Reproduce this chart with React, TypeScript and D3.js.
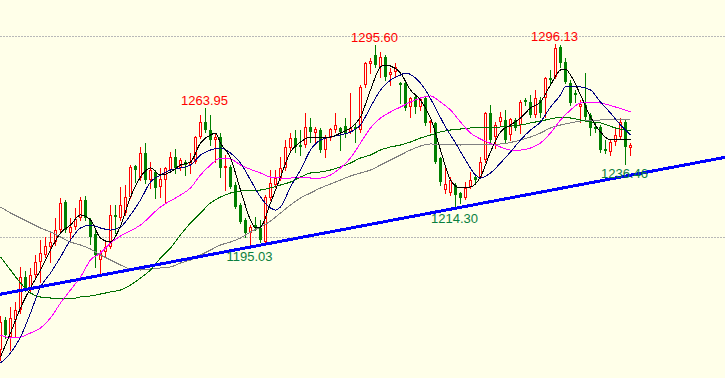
import React from "react";
import * as d3 from "d3";

const candleOpen = [1143.78,1158.71,1150.25,1158.71,1163.68,1180.10,1173.63,1181.10,1187.56,1191.05,1195.03,1197.51,1203.48,1217.41,1201.99,1204.98,1209.45,1218.41,1208.46,1201.49,1188.56,1192.54,1195.03,1210.95,1209.45,1211.94,1219.90,1235.32,1229.35,1241.79,1228.36,1232.34,1224.88,1228.36,1233.33,1239.80,1234.33,1237.31,1235.82,1237.31,1249.75,1257.21,1253.23,1248.26,1249.75,1234.33,1234.83,1225.87,1215.92,1208.46,1201.99,1205.97,1204.48,1197.51,1219.40,1225.87,1229.35,1234.33,1244.28,1249.25,1245.77,1245.77,1254.73,1251.74,1253.23,1243.28,1249.25,1253.23,1254.23,1255.22,1252.24,1254.73,1253.23,1275.62,1286.07,1290.55,1284.58,1289.55,1280.60,1282.09,1276.62,1276.62,1264.68,1269.65,1264.68,1269.15,1256.72,1256.72,1239.30,1223.38,1221.89,1225.87,1221.89,1219.40,1224.88,1229.85,1229.85,1238.31,1261.69,1249.75,1257.21,1258.21,1250.75,1258.21,1255.72,1268.16,1267.16,1260.70,1268.16,1269.15,1279.10,1279.60,1294.53,1287.06,1276.62,1271.64,1264.68,1265.67,1260.70,1254.73,1254.73,1243.78,1242.29,1247.26,1249.75,1257.21,1244.28];
const candleHigh = [1160.70,1160.20,1165.18,1167.66,1185.08,1183.09,1184.58,1191.05,1198.51,1200.00,1201.99,1209.45,1219.40,1218.41,1209.45,1214.43,1219.90,1220.40,1209.45,1203.48,1193.53,1198.51,1215.92,1215.92,1224.88,1225.87,1235.82,1235.82,1244.78,1246.77,1237.31,1233.33,1234.33,1234.83,1242.29,1243.78,1239.30,1238.31,1241.79,1250.25,1260.70,1263.95,1260.70,1251.74,1251.74,1240.80,1235.82,1227.36,1216.92,1209.45,1205.97,1209.95,1208.46,1220.90,1233.33,1233.33,1239.80,1248.26,1251.74,1253.23,1253.23,1261.69,1259.20,1254.73,1254.23,1250.75,1254.23,1261.69,1254.73,1259.20,1271.64,1256.72,1275.62,1287.06,1289.05,1295.60,1292.04,1290.55,1284.08,1286.57,1277.11,1277.11,1269.65,1270.15,1269.65,1269.65,1258.21,1257.21,1239.80,1235.82,1229.85,1226.87,1222.39,1227.36,1232.34,1230.85,1239.80,1262.19,1265.67,1257.21,1262.19,1263.18,1259.20,1259.20,1268.16,1269.15,1270.65,1273.13,1269.65,1279.60,1283.08,1296.13,1295.52,1289.05,1278.11,1273.13,1268.16,1281.59,1261.69,1256.72,1255.72,1248.26,1248.26,1254.73,1259.20,1258.21,1246.77];
const candleLow = [1138.81,1149.75,1143.78,1150.75,1162.19,1173.14,1172.64,1180.10,1177.61,1190.05,1187.56,1196.02,1201.99,1202.49,1197.51,1203.98,1208.46,1208.46,1196.50,1185.08,1181.10,1190.05,1194.53,1201.99,1208.46,1210.95,1219.40,1227.36,1228.36,1226.87,1224.38,1219.40,1219.90,1216.92,1232.34,1231.84,1233.33,1230.85,1231.84,1236.82,1249.25,1252.24,1245.77,1237.31,1229.85,1223.38,1224.38,1214.43,1206.97,1200.00,1195.03,1203.48,1197.51,1197.02,1218.41,1224.88,1228.36,1233.33,1243.28,1242.29,1240.80,1244.78,1247.26,1246.77,1242.29,1239.80,1248.26,1252.24,1243.28,1249.75,1251.74,1247.26,1252.24,1274.63,1281.59,1284.58,1279.60,1278.11,1275.62,1279.60,1266.67,1263.18,1259.70,1261.69,1263.18,1255.72,1252.24,1236.82,1225.87,1221.89,1220.90,1214.30,1216.92,1218.91,1224.38,1227.36,1229.35,1237.31,1246.77,1244.28,1255.72,1246.77,1248.26,1253.23,1251.74,1265.67,1259.70,1259.70,1259.70,1259.70,1275.62,1279.10,1284.58,1276.62,1265.67,1267.16,1257.21,1258.21,1250.75,1252.24,1242.29,1241.79,1240.80,1245.77,1249.25,1236.46,1240.80];
const candleClose = [1157.71,1151.25,1159.70,1163.68,1180.10,1174.63,1181.10,1187.56,1192.04,1195.52,1197.51,1203.48,1216.92,1203.48,1204.98,1208.96,1218.41,1209.45,1200.00,1191.05,1192.04,1195.03,1210.95,1209.95,1215.92,1219.90,1234.83,1233.33,1241.79,1228.36,1233.33,1224.38,1228.86,1234.33,1239.80,1234.33,1238.31,1235.82,1237.31,1249.75,1257.21,1253.23,1248.26,1249.75,1234.33,1235.32,1224.88,1214.93,1207.46,1201.99,1204.98,1204.48,1198.51,1219.90,1226.87,1229.35,1234.33,1244.78,1249.25,1244.78,1244.78,1254.73,1252.24,1253.73,1243.28,1249.25,1253.73,1255.72,1252.24,1251.74,1254.23,1253.73,1274.63,1286.57,1287.56,1285.57,1289.55,1279.60,1282.09,1284.58,1275.62,1264.18,1269.15,1264.68,1268.66,1256.72,1257.71,1237.31,1227.36,1226.37,1228.36,1220.90,1219.40,1224.38,1228.36,1228.36,1237.31,1261.69,1248.26,1255.72,1259.70,1248.26,1258.71,1254.23,1267.16,1267.16,1260.70,1269.15,1261.69,1279.10,1278.11,1294.03,1286.57,1277.11,1266.67,1270.65,1266.17,1259.70,1254.23,1253.73,1243.28,1242.79,1247.26,1250.75,1257.21,1244.78,1245.77];

// moving averages: [candle index, price]
const ma5 = [[0,1140.30],[2,1152.24],[4,1164.68],[6,1174.63],[8,1183.58],[10,1193.53],[12,1201.99],[14,1205.97],[16,1210.95],[18,1208.46],[20,1199.50],[22,1197.51],[24,1205.47],[26,1219.90],[28,1229.85],[30,1234.33],[32,1230.85],[34,1232.34],[36,1235.82],[38,1237.31],[40,1246.77],[42,1250.75],[43,1251.74],[44,1246.77],[46,1239.30],[48,1223.38],[50,1208.46],[51,1204.48],[52,1204.98],[54,1216.92],[56,1229.85],[58,1242.29],[60,1247.26],[62,1249.75],[64,1249.75],[66,1249.75],[68,1251.74],[70,1254.23],[72,1259.70],[74,1273.13],[76,1284.58],[77,1285.57],[78,1285.08],[80,1281.59],[82,1273.13],[84,1268.16],[86,1259.20],[88,1243.28],[90,1228.36],[92,1224.38],[94,1224.88],[96,1229.85],[98,1242.29],[100,1252.24],[102,1255.72],[104,1259.20],[106,1264.18],[108,1267.16],[110,1275.62],[112,1283.08],[113,1283.58],[114,1280.60],[116,1270.65],[118,1259.70],[120,1252.24],[122,1248.26],[124,1248.26],[126,1248.26]];
const ma10 = [[0,1137.32],[2,1142.29],[4,1150.25],[6,1162.19],[8,1175.13],[10,1182.09],[12,1190.05],[14,1198.51],[16,1204.48],[18,1205.97],[20,1204.48],[22,1203.48],[24,1204.98],[26,1210.95],[28,1218.41],[30,1227.36],[32,1230.85],[34,1233.33],[36,1234.33],[38,1235.82],[40,1240.80],[42,1243.28],[44,1244.28],[46,1241.79],[48,1236.82],[50,1228.36],[52,1219.90],[54,1214.43],[55,1213.43],[56,1214.93],[58,1224.88],[60,1233.33],[62,1243.28],[64,1248.26],[66,1249.75],[68,1250.75],[70,1252.24],[72,1255.72],[74,1264.68],[76,1273.13],[78,1278.11],[80,1280.60],[81,1281.59],[83,1279.10],[85,1273.13],[87,1264.18],[89,1254.73],[91,1246.77],[93,1238.31],[95,1230.85],[96,1229.35],[98,1231.84],[100,1236.82],[102,1242.29],[104,1248.26],[106,1253.23],[108,1257.21],[110,1264.68],[112,1270.65],[113,1274.63],[116,1274.63],[118,1273.13],[120,1267.16],[122,1261.69],[124,1255.72],[126,1250.75]];
const ma20 = [[0,1151.25],[2,1149.75],[4,1150.25],[6,1152.24],[8,1154.73],[10,1159.70],[12,1167.17],[14,1173.63],[16,1180.10],[18,1188.56],[20,1192.04],[22,1197.02],[24,1200.50],[28,1205.97],[32,1214.93],[36,1220.90],[38,1224.38],[40,1230.85],[42,1235.82],[44,1239.30],[46,1238.81],[48,1235.82],[52,1231.84],[54,1229.85],[56,1229.35],[58,1229.35],[60,1229.85],[62,1229.35],[64,1229.35],[66,1230.85],[68,1234.33],[70,1239.30],[72,1246.77],[74,1254.23],[76,1259.20],[78,1262.19],[80,1264.68],[82,1267.16],[84,1269.15],[86,1270.15],[88,1267.16],[90,1263.18],[92,1257.21],[94,1251.74],[96,1248.76],[100,1244.78],[102,1243.28],[104,1243.28],[106,1244.28],[108,1246.77],[110,1251.74],[112,1258.21],[114,1263.18],[116,1266.67],[118,1267.16],[120,1266.67],[123,1264.68],[126,1262.19]];
const ma60 = [[0,1190.05],[2,1183.58],[4,1177.12],[6,1172.14],[8,1170.15],[10,1169.65],[12,1169.16],[14,1169.16],[16,1170.15],[18,1170.65],[20,1171.64],[22,1172.64],[24,1173.63],[26,1176.12],[28,1179.60],[30,1183.58],[32,1189.55],[34,1194.53],[36,1201.00],[38,1206.97],[40,1211.94],[42,1216.92],[44,1219.90],[46,1221.89],[48,1222.89],[52,1223.38],[54,1224.38],[56,1225.87],[58,1227.36],[60,1229.85],[62,1231.84],[64,1232.34],[66,1233.33],[68,1234.83],[70,1236.82],[72,1239.30],[74,1240.80],[76,1243.28],[78,1244.78],[80,1245.77],[82,1247.26],[84,1249.25],[86,1250.75],[88,1252.24],[90,1253.23],[92,1253.73],[94,1254.23],[100,1254.73],[104,1255.72],[106,1256.72],[108,1257.71],[110,1258.71],[112,1259.70],[114,1259.20],[116,1258.21],[118,1257.21],[120,1256.72],[123,1254.23],[126,1252.74]];
const ma120 = [[0,1214.93],[2,1211.94],[4,1209.45],[6,1206.97],[8,1204.48],[10,1202.49],[12,1200.00],[14,1197.51],[16,1196.02],[18,1194.03],[20,1191.05],[22,1188.56],[24,1186.07],[26,1184.08],[28,1183.58],[30,1184.08],[32,1184.58],[34,1185.08],[36,1187.07],[38,1188.56],[40,1191.05],[42,1193.53],[44,1196.02],[46,1197.51],[48,1199.50],[50,1202.49],[52,1204.98],[54,1207.96],[56,1211.94],[58,1215.92],[60,1219.40],[62,1221.89],[64,1224.38],[66,1226.37],[68,1228.36],[70,1230.35],[72,1231.84],[74,1233.33],[76,1235.82],[78,1238.31],[80,1240.80],[82,1243.28],[84,1245.27],[86,1246.27],[92,1245.77],[100,1246.27],[104,1248.26],[106,1249.75],[108,1251.74],[110,1254.23],[112,1255.72],[114,1256.72],[116,1257.71],[120,1258.21],[126,1258.71]];

// trend line anchored at two lows
const trendIdx = [50, 91];
const trendPrice = [1195.03, 1214.30];

// annotated extremes
const labelIdx = [41, 75, 111, 50, 91, 125];
const labelKind = ["high", "high", "high", "low", "low", "low"];

const gridPrices = [1200, 1300];

const W = 725;
const H = 378;
const BG = "#ffffe9";
const UP = "#ff0000";
const DOWN = "#008000";

export default function App() {
  const x = d3.scaleLinear().domain([0, 126]).range([0.5, 630.5]);
  const y = d3.scaleLinear().domain([1200, 1300]).range([237, 36]);

  const maLine = d3
    .line<number[]>()
    .x((d) => x(d[0]))
    .y((d) => y(d[1]))
    .curve(d3.curveMonotoneX);

  const slope = (trendPrice[1] - trendPrice[0]) / (trendIdx[1] - trendIdx[0]);
  const trendAt = (i: number) => trendPrice[0] + (i - trendIdx[0]) * slope;
  const i0 = x.invert(0);
  const i1 = x.invert(W);

  const mas: [number[][], string][] = [
    [ma120, "#808080"],
    [ma60, "#006f00"],
    [ma20, "#ff00ff"],
    [ma10, "#000080"],
    [ma5, "#000000"],
  ];

  const snap = (v: number) => Math.round(v);

  return (
    <svg
      width={W}
      height={H}
      style={{ position: "absolute", left: 0, top: 0, display: "block" }}
    >
      <rect x={0} y={0} width={W} height={H} fill={BG} />
      {gridPrices.map((p) => (
        <line
          key={p}
          x1={0}
          x2={W}
          y1={Math.floor(y(p)) + 0.5}
          y2={Math.floor(y(p)) + 0.5}
          stroke="#b8b8b8"
          strokeWidth={1}
          strokeDasharray="2,1"
        />
      ))}
      <g shapeRendering="crispEdges">
        {candleOpen.map((o, i) => {
          const c = candleClose[i];
          const cx = x(i);
          const up = c >= o;
          const col = up ? UP : DOWN;
          const yt = snap(y(Math.max(o, c)));
          const yb = snap(y(Math.min(o, c)));
          const h = Math.max(1, yb - yt);
          return (
            <g key={i}>
              <line
                x1={cx}
                x2={cx}
                y1={snap(y(candleHigh[i]))}
                y2={snap(y(candleLow[i])) + 1}
                stroke={col}
                strokeWidth={1}
              />
              {up ? (
                <rect
                  x={cx - 1}
                  y={yt + 0.5}
                  width={2}
                  height={Math.max(1, h - 1)}
                  fill={BG}
                  stroke={col}
                  strokeWidth={1}
                />
              ) : (
                <rect x={cx - 1.5} y={yt} width={3} height={h} fill={col} />
              )}
            </g>
          );
        })}
      </g>
      {mas.map(([d, col], k) => (
        <path
          key={k}
          d={maLine(d) || ""}
          fill="none"
          stroke={col}
          strokeWidth={1}
          shapeRendering="crispEdges"
        />
      ))}
      <line
        x1={0}
        x2={W}
        y1={y(trendAt(i0))}
        y2={y(trendAt(i1))}
        stroke="#0000ff"
        strokeWidth={3}
        shapeRendering="crispEdges"
      />
      {labelIdx.map((i, k) => {
        const high = labelKind[k] === "high";
        const v = high ? candleHigh[i] : candleLow[i];
        return (
          <text
            key={k}
            x={x(i) - 1}
            y={high ? y(v) - 3 : y(v) + 14.5}
            textAnchor="middle"
            fontFamily="'Liberation Sans', Arial, sans-serif"
            fontSize={13}
            fill={high ? "#ff0000" : "#0a7f3f"}
          >
            {v.toFixed(2)}
          </text>
        );
      })}
    </svg>
  );
}
